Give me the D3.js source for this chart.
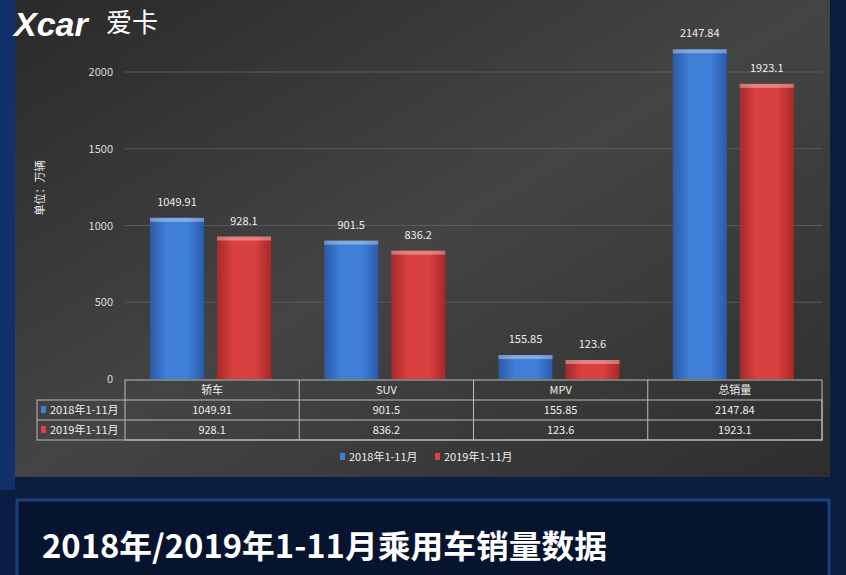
<!DOCTYPE html><html><head><meta charset="utf-8">
<script src="https://cdn.jsdelivr.net/npm/d3@7"></script>
<style>body{margin:0;background:#081a3a;}svg{display:block;font-family:"Noto Sans CJK SC","Liberation Sans",sans-serif;}</style>
</head><body><svg id="c" width="846" height="575"></svg>
<script>
const categories=["轿车","SUV","MPV","总销量"];
const seriesNames=["2018年1-11月","2019年1-11月"];
const values2018=[1049.91,901.5,155.85,2147.84];
const values2019=[928.1,836.2,123.6,1923.1];
const labels2018=["1049.91","901.5","155.85","2147.84"];
const labels2019=["928.1","836.2","123.6","1923.1"];
const yTicks=[0,500,1000,1500,2000];

const svg=d3.select("#c");
const defs=svg.append("defs");
const bg=defs.append("linearGradient").attr("id","bg").attr("x1",0).attr("y1",0).attr("x2",1).attr("y2",1);
bg.append("stop").attr("offset",0).attr("stop-color","#2a2a2a");
bg.append("stop").attr("offset",0.5).attr("stop-color","#444");
bg.append("stop").attr("offset",1).attr("stop-color","#2e2e2e");
function barGrad(id,mid,dark){const g=defs.append("linearGradient").attr("id",id);
 g.append("stop").attr("offset",0).attr("stop-color",dark);g.append("stop").attr("offset",0.3).attr("stop-color",mid);
 g.append("stop").attr("offset",0.7).attr("stop-color",mid);g.append("stop").attr("offset",1).attr("stop-color",dark);}
barGrad("gb","#3f7fd8","#2a5aa8");barGrad("gr","#d94040","#a82828");
const colors=["url(#gb)","url(#gr)"],solid=["#3f7fd8","#d94040"];

svg.append("rect").attr("x",0).attr("y",0).attr("width",846).attr("height",575).attr("fill","#0b1d40");
svg.append("rect").attr("x",0).attr("y",0).attr("width",15).attr("height",490).attr("fill","#12306a");
svg.append("rect").attr("x",15).attr("y",0).attr("width",815).attr("height",477).attr("fill","url(#bg)");
svg.append("rect").attr("x",17).attr("y",500).attr("width",812).attr("height",80).attr("fill","#061430").attr("stroke","#1a3f80").attr("stroke-width",3);
svg.append("text").attr("x",42).attr("y",558).attr("fill","#fff").attr("font-size",32).attr("font-weight","bold").attr("textLength",565).attr("lengthAdjust","spacingAndGlyphs").text("2018年/2019年1-11月乘用车销量数据");
svg.append("text").attr("x",14).attr("y",36).attr("fill","#fff").attr("font-size",34).attr("font-weight","bold").attr("font-style","italic").attr("font-family","Liberation Sans").text("Xcar");
svg.append("text").attr("x",106).attr("y",32).attr("fill","#fff").attr("font-size",26).text("爱卡");

const x0=d3.scaleBand().domain(categories).range([125,822]);
const y=d3.scaleLinear().domain([0,2000]).range([379,72]);
const g=svg.append("g");
g.selectAll(".grid").data(yTicks.slice(1)).join("line").attr("x1",125).attr("x2",822).attr("y1",d=>y(d)).attr("y2",d=>y(d)).attr("stroke","#5a5a5a");
g.selectAll(".yt").data(yTicks).join("text").attr("x",113).attr("y",d=>y(d)+4).attr("text-anchor","end").attr("fill","#ddd").attr("font-size",11).text(d=>d);
svg.append("text").attr("transform","translate(44,188) rotate(-90)").attr("text-anchor","middle").attr("fill","#eee").attr("font-size",11).text("单位：万辆");

const series=[values2018,values2019],labs=[labels2018,labels2019];
series.forEach((vals,s)=>{
 categories.forEach((c,i)=>{
  const bx=x0(c)+25+s*67,bw=54;
  g.append("rect").attr("x",bx).attr("y",y(vals[i])).attr("width",bw).attr("height",y(0)-y(vals[i])).attr("fill",colors[s]);
  g.append("rect").attr("x",bx).attr("y",y(vals[i])).attr("width",bw).attr("height",4).attr("fill","#fff").attr("opacity",0.35);
  g.append("text").attr("x",bx+bw/2).attr("y",y(vals[i])-12).attr("text-anchor","middle").attr("fill","#eee").attr("font-size",11).text(labs[s][i]);
 });
});
const t=svg.append("g").attr("stroke","#bbb").attr("fill","none");
t.append("rect").attr("x",125).attr("y",380).attr("width",697).attr("height",60);
t.append("rect").attr("x",37).attr("y",400).attr("width",785).attr("height",40);
t.append("line").attr("x1",37).attr("x2",822).attr("y1",420).attr("y2",420);
categories.forEach((c,i)=>{if(i>0)t.append("line").attr("x1",x0(c)).attr("x2",x0(c)).attr("y1",380).attr("y2",440);});
svg.selectAll(".th").data(categories).join("text").attr("x",d=>x0(d)+x0.bandwidth()/2).attr("y",394).attr("text-anchor","middle").attr("fill","#eee").attr("font-size",11).text(d=>d);
series.forEach((vals,s)=>{
 const ry=414+s*20;
 svg.append("rect").attr("x",41).attr("y",ry-8).attr("width",5).attr("height",7).attr("fill",solid[s]);
 svg.append("text").attr("x",50).attr("y",ry).attr("fill","#eee").attr("font-size",11).text(seriesNames[s]);
 categories.forEach((c,i)=>svg.append("text").attr("x",x0(c)+x0.bandwidth()/2).attr("y",ry).attr("text-anchor","middle").attr("fill","#eee").attr("font-size",11).text(labs[s][i]));
});
seriesNames.forEach((n,s)=>{const lx=340+s*95;
 svg.append("rect").attr("x",lx).attr("y",453).attr("width",5).attr("height",7).attr("fill",solid[s]);
 svg.append("text").attr("x",lx+9).attr("y",461).attr("fill","#eee").attr("font-size",11).text(n);});
</script></body></html>
